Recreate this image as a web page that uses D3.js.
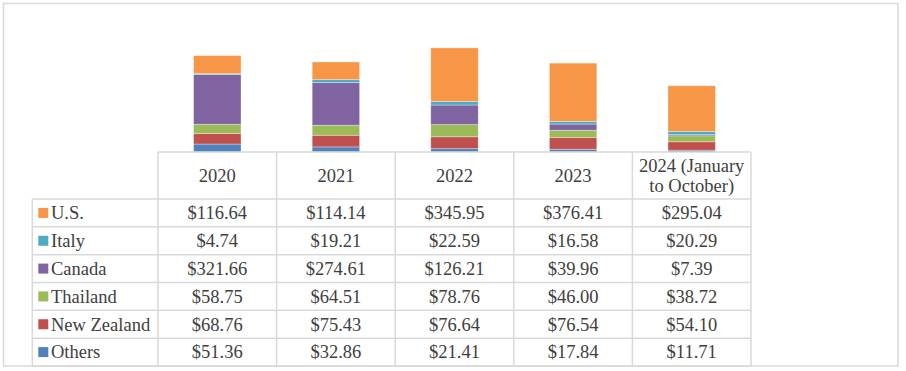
<!DOCTYPE html>
<html>
<head>
<meta charset="utf-8">
<script src="https://cdn.jsdelivr.net/npm/d3@7"></script>
<style>
  html, body { margin: 0; padding: 0; background: #fff; }
  svg { display: block; }
</style>
</head>
<body>
<div id="chart"></div>
<script>
// ---- data ----
const categories = ["2020", "2021", "2022", "2023", "2024 (January to October)"];
const headerLines = [["2020"], ["2021"], ["2022"], ["2023"], ["2024 (January", "to October)"]];
const seriesNames = ["U.S.", "Italy", "Canada", "Thailand", "New Zealand", "Others"];
const usValues = [116.64, 114.14, 345.95, 376.41, 295.04];
const italyValues = [4.74, 19.21, 22.59, 16.58, 20.29];
const canadaValues = [321.66, 274.61, 126.21, 39.96, 7.39];
const thailandValues = [58.75, 64.51, 78.76, 46.00, 38.72];
const newZealandValues = [68.76, 75.43, 76.64, 76.54, 54.10];
const othersValues = [51.36, 32.86, 21.41, 17.84, 11.71];
const seriesColors = ["#F79646", "#4BACC6", "#8064A2", "#9BBB59", "#C0504D", "#4F81BD"];

const seriesValues = [usValues, italyValues, canadaValues, thailandValues, newZealandValues, othersValues];

// ---- layout ----
const W = 906, H = 371;
const svg = d3.select("#chart").append("svg").attr("width", W).attr("height", H);

const outer = {x0: 3.5, y0: 3.5, x1: 898, y1: 366};
const tableLeft = 32.3;
const colLeft = 158, colRight = 751;
const headerTop = 152, headerBottom = 199, tableBottom = 366;
const gridColor = "#d9d9d9";
const textColor = "#404040";
const fontFamily = "'Liberation Serif', 'Times New Roman', serif";
const fs = 18.5;

// outer frame
svg.append("rect")
  .attr("x", outer.x0).attr("y", outer.y0)
  .attr("width", outer.x1 - outer.x0).attr("height", outer.y1 - outer.y0)
  .attr("fill", "none").attr("stroke", gridColor).attr("stroke-width", 1.5);

// scales
const x = d3.scaleBand().domain(categories).range([colLeft, colRight]).paddingInner(0).paddingOuter(0);
const y = d3.scaleLinear().domain([0, 800]).range([headerTop, 28]);
const barW = x.bandwidth() * 0.4;

// stacked data (bottom = Others ... top = U.S.)
const rows = categories.map((c, i) => {
  const o = {cat: c};
  seriesNames.forEach((s, j) => { o[s] = seriesValues[j][i]; });
  return o;
});
const stackKeys = seriesNames.slice().reverse();
const stack = d3.stack().keys(stackKeys)(rows);
const color = d3.scaleOrdinal().domain(seriesNames).range(seriesColors);

const gBars = svg.append("g");
stack.forEach(layer => {
  gBars.selectAll(null).data(layer).enter().append("rect")
    .attr("x", d => x(d.data.cat) + (x.bandwidth() - barW) / 2)
    .attr("y", d => y(d[1]))
    .attr("width", barW)
    .attr("height", d => y(d[0]) - y(d[1]))
    .attr("fill", color(layer.key))
    .attr("stroke", "#ffffff").attr("stroke-opacity", 0.45).attr("stroke-width", 0.75);
});

// table
const nRows = seriesNames.length;
const rowH = (tableBottom - headerBottom) / nRows;
const gT = svg.append("g");

// horizontal lines
gT.append("line").attr("x1", colLeft).attr("x2", colRight).attr("y1", headerTop).attr("y2", headerTop);
for (let r = 0; r <= nRows; r++) {
  const yy = headerBottom + r * rowH;
  gT.append("line").attr("x1", tableLeft).attr("x2", colRight).attr("y1", yy).attr("y2", yy);
}
// vertical lines
gT.append("line").attr("x1", tableLeft).attr("x2", tableLeft).attr("y1", headerBottom).attr("y2", tableBottom);
categories.forEach(c => {
  gT.append("line").attr("x1", x(c)).attr("x2", x(c)).attr("y1", headerTop).attr("y2", tableBottom);
});
gT.append("line").attr("x1", colRight).attr("x2", colRight).attr("y1", headerTop).attr("y2", tableBottom);
gT.selectAll("line").attr("stroke", gridColor).attr("stroke-width", 1.5);

// header text
categories.forEach((c, i) => {
  const lines = headerLines[i];
  const cy = (headerTop + headerBottom) / 2;
  const lh = 20.5;
  lines.forEach((ln, k) => {
    gT.append("text")
      .attr("x", x(c) + x.bandwidth() / 2)
      .attr("y", cy + (k - (lines.length - 1) / 2) * lh)
      .attr("dy", "0.34em")
      .attr("text-anchor", "middle")
      .attr("font-family", fontFamily).attr("font-size", fs)
      .attr("fill", textColor)
      .text(ln);
  });
});

// rows
seriesNames.forEach((s, r) => {
  const cy = headerBottom + (r + 0.5) * rowH;
  gT.append("rect")
    .attr("x", 38.3).attr("y", cy - 5).attr("width", 10).attr("height", 10)
    .attr("fill", color(s));
  gT.append("text")
    .attr("x", 51).attr("y", cy).attr("dy", "0.34em")
    .attr("font-family", fontFamily).attr("font-size", fs)
    .attr("fill", textColor)
    .text(s);
  categories.forEach((c, i) => {
    gT.append("text")
      .attr("x", x(c) + x.bandwidth() / 2).attr("y", cy).attr("dy", "0.34em")
      .attr("text-anchor", "middle")
      .attr("font-family", fontFamily).attr("font-size", fs)
      .attr("fill", textColor)
      .text("$" + seriesValues[r][i].toFixed(2));
  });
});
</script>
</body>
</html>
